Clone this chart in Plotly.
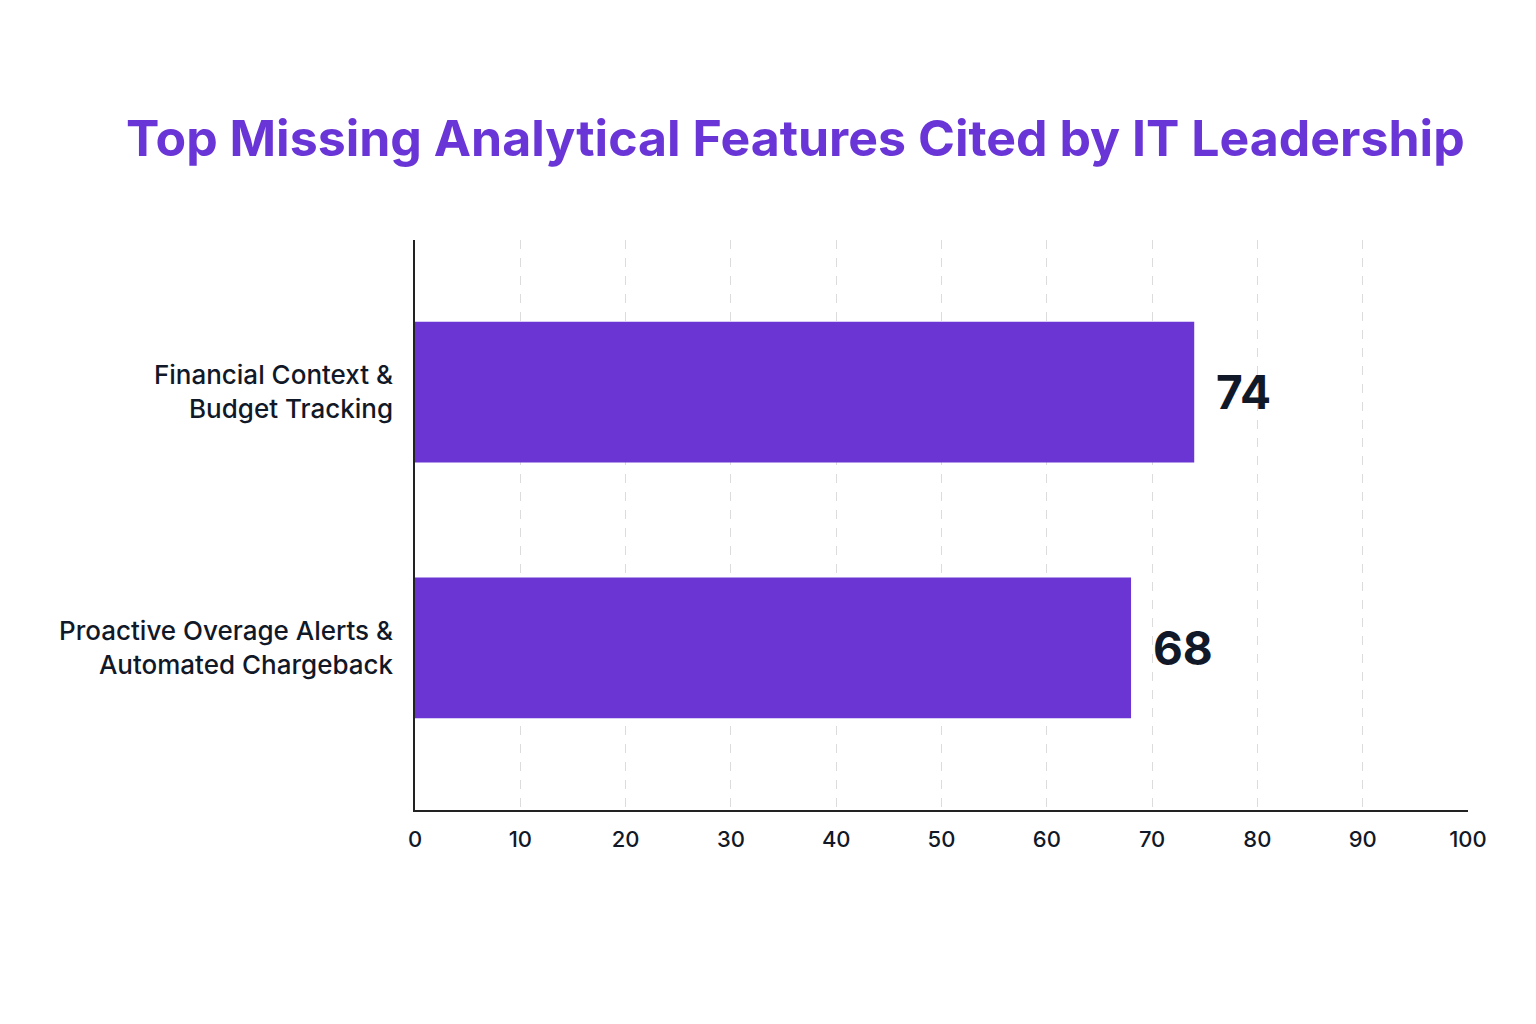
import plotly.graph_objects as go

CATEGORIES = ["Financial Context &<br>Budget Tracking",
              "Proactive Overage Alerts &<br>Automated Chargeback"]
VALUES = [74, 68]
X_TICKS = [0, 10, 20, 30, 40, 50, 60, 70, 80, 90, 100]

PURPLE = "#6a35d3"
FONT = "Inter"

fig = go.Figure()
fig.add_trace(go.Bar(
    x=VALUES,
    y=CATEGORIES,
    orientation="h",
    width=0.55,
    marker=dict(color=PURPLE, line=dict(width=0)),
    hoverinfo="skip",
))

# value labels to the right of each bar
for cat, val in zip(CATEGORIES, VALUES):
    fig.add_annotation(
        x=val, y=cat, text=f"<b>{val}</b>",
        xanchor="left", yanchor="middle", xshift=20,
        showarrow=False,
        font=dict(family=FONT, size=46, color="#111827"),
    )

fig.update_layout(
    width=1520,
    height=1008,
    paper_bgcolor="white",
    plot_bgcolor="white",
    margin=dict(l=407, r=60, t=232, b=206),
    showlegend=False,
    font=dict(family=FONT, color="#111827"),
    title=dict(
        text="<b>Top Missing Analytical Features Cited by IT Leadership</b>",
        x=0.518, xanchor="center", xref="container",
        y=0.871, yanchor="middle", yref="container",
        font=dict(family=FONT, size=50, color="#6a35d6"),
    ),
)

fig.update_xaxes(
    range=[0, 100],
    tickvals=X_TICKS,
    showgrid=True,
    gridcolor="#dcdcdc",
    griddash="dash",
    gridwidth=1,
    showline=True,
    linecolor="#222222",
    linewidth=1.5,
    ticks="",
    ticklabelstandoff=9,
    tickfont=dict(family=FONT, size=22, color="#111827", weight=500),
    zeroline=False,
    fixedrange=True,
)
fig.update_yaxes(
    type="category",
    range=[1.633, -0.594],
    showgrid=False,
    showline=True,
    linecolor="#222222",
    linewidth=1.5,
    ticks="",
    ticklabelstandoff=15,
    tickfont=dict(family=FONT, size=26, color="#111827", weight=500),
    zeroline=False,
    fixedrange=True,
)

fig.write_html("out.html")
